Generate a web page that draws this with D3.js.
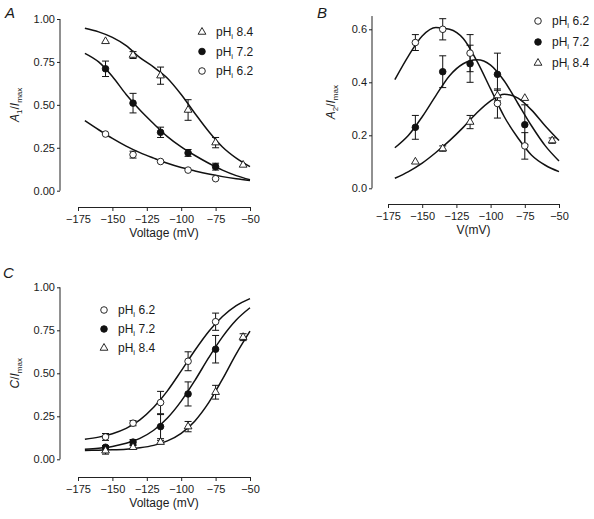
<!DOCTYPE html>
<html><head><meta charset="utf-8">
<script src="https://cdn.jsdelivr.net/npm/d3@7"></script>
<style>
body{margin:0;background:#fff}
svg{display:block}
text{font-family:"Liberation Sans",Arial,Helvetica,sans-serif;fill:#1a1a1a}
</style>
</head><body>
<svg id="chart" width="594" height="519"></svg>
<script>
// ---------- DATA ----------
const voltages = [-155, -135, -115, -95, -75, -55];
const curveV = [-170, -160, -150, -140, -130, -120, -110, -100, -90, -80, -70, -60, -50];
const xTicks = [-175, -150, -125, -100, -75, -50];

// Panel A : A1/Imax
const a1_pH84 = [0.87, 0.79, 0.67, 0.47, 0.28, 0.15];
const a1_pH84_err = [0, 0.02, 0.05, 0.06, 0.03, 0];
const a1_pH72 = [0.71, 0.51, 0.34, 0.22, 0.14];
const a1_pH72_err = [0.045, 0.057, 0.03, 0.02, 0.02];
const a1_pH62 = [0.33, 0.21, 0.17, 0.12, 0.07];
const a1_pH62_err = [0, 0.02, 0, 0, 0];
const a1_fit84 = [0.946, 0.925, 0.893, 0.845, 0.775, 0.72, 0.655, 0.56, 0.45, 0.345, 0.255, 0.19, 0.14];
const a1_fit72 = [0.80, 0.75, 0.665, 0.56, 0.47, 0.39, 0.315, 0.255, 0.205, 0.16, 0.12, 0.088, 0.064];
const a1_fit62 = [0.408, 0.355, 0.305, 0.26, 0.222, 0.19, 0.16, 0.135, 0.115, 0.097, 0.082, 0.07, 0.06];
const aTicks = [0, 0.25, 0.5, 0.75, 1.0];

// Panel B : A2/Imax
const a2_pH62 = [0.55, 0.60, 0.51, 0.32, 0.16];
const a2_pH62_err = [0.03, 0.04, 0.07, 0.055, 0.05];
const a2_pH72 = [0.23, 0.44, 0.47, 0.43, 0.24];
const a2_pH72_err = [0.045, 0.06, 0.07, 0.08, 0.075];
const a2_pH84 = [0.10, 0.15, 0.25, 0.35, 0.34, 0.18];
const a2_pH84_err = [0, 0.01, 0.025, 0.02, 0, 0.01];
const a2_fit62 = [0.41, 0.50, 0.575, 0.607, 0.60, 0.565, 0.48, 0.375, 0.27, 0.19, 0.125, 0.087, 0.063];
const a2_fit72 = [0.153, 0.20, 0.27, 0.35, 0.425, 0.47, 0.485, 0.465, 0.405, 0.32, 0.235, 0.16, 0.103];
const a2_fit84 = [0.038, 0.063, 0.095, 0.135, 0.18, 0.23, 0.285, 0.33, 0.355, 0.34, 0.295, 0.235, 0.18];
const bTicks = [0, 0.2, 0.4, 0.6];

// Panel C : C/Imax
const c_pH62 = [0.13, 0.21, 0.33, 0.57, 0.80];
const c_pH62_err = [0.02, 0.015, 0.065, 0.055, 0.05];
const c_pH72 = [0.07, 0.10, 0.19, 0.38, 0.64];
const c_pH72_err = [0.01, 0.015, 0.07, 0.07, 0.08];
const c_pH84 = [0.05, 0.07, 0.10, 0.19, 0.39, 0.71];
const c_pH84_err = [0.02, 0.01, 0.01, 0.03, 0.04, 0.02];
const c_fit62 = [0.117, 0.129, 0.149, 0.18, 0.229, 0.302, 0.398, 0.514, 0.634, 0.743, 0.83, 0.893, 0.934];
const c_fit72 = [0.058, 0.0645, 0.075, 0.093, 0.122, 0.169, 0.24, 0.338, 0.459, 0.591, 0.712, 0.81, 0.881];
const c_fit84 = [0.051, 0.053, 0.055, 0.059, 0.067, 0.081, 0.107, 0.151, 0.223, 0.329, 0.466, 0.613, 0.745];
const cTicks = [0, 0.25, 0.5, 0.75, 1.0];

// ---------- DRAWING ----------
const svg = d3.select("#chart");
const fmt2 = d3.format(".2f"), fmt1 = d3.format(".1f");

function marker(g, type, x, y) {
  if (type === "tri") {
    g.append("path").attr("d", d3.symbol(d3.symbolTriangle, 26)())
      .attr("transform", `translate(${x},${y})`)
      .attr("fill", "#fff").attr("stroke", "#111").attr("stroke-width", 0.9);
  } else {
    g.append("circle").attr("cx", x).attr("cy", y).attr("r", 3.3)
      .attr("fill", type === "filled" ? "#111" : "#fff")
      .attr("stroke", "#111").attr("stroke-width", 0.9);
  }
}

function legendLabel(t, ph) {
  t.append("tspan").text("pH");
  t.append("tspan").attr("font-size", "8px").attr("dy", 3).text("i");
  t.append("tspan").attr("dy", -3).text(" " + ph);
}

function panel(cfg) {
  const g = svg.append("g");
  const x = d3.scaleLinear().domain([-175, -50]).range([cfg.x0, cfg.x1]);
  const y = d3.scaleLinear().domain(cfg.yDomain).range([cfg.yb, cfg.yt]);

  // y axis
  const ya = g.append("g").attr("transform", `translate(${cfg.yx},0)`)
    .call(d3.axisLeft(y).tickValues(cfg.yTicks).tickFormat(cfg.yFmt).tickSize(3).tickPadding(2));
  ya.select(".domain").attr("stroke", "#222").attr("d", `M0,${y(cfg.yDomain[1])}V${y(0)}`);
  ya.selectAll(".tick line").attr("stroke", "#222");
  ya.selectAll("text").attr("font-size", "11px").attr("fill", "#1a1a1a");

  // x axis (detached)
  const xa = g.append("g").attr("transform", `translate(0,${cfg.xy})`)
    .call(d3.axisBottom(x).tickValues(xTicks).tickSize(4).tickPadding(4).tickSizeOuter(0));
  xa.select(".domain").attr("stroke", "#222");
  xa.selectAll(".tick line").attr("stroke", "#222");
  xa.selectAll("text").attr("font-size", "11px").attr("fill", "#1a1a1a");

  // fitted curves
  const line = d3.line().x((d, i) => x(curveV[i])).y(d => y(d)).curve(d3.curveMonotoneX);
  cfg.fits.forEach(f => {
    g.append("path").attr("d", line(f)).attr("fill", "none")
      .attr("stroke", "#111").attr("stroke-width", 1.5);
  });

  // error bars then markers
  cfg.series.forEach(s => {
    s.vals.forEach((v, i) => {
      const e = s.err[i];
      if (e > 0) {
        const cx = x(voltages[i]);
        g.append("line").attr("x1", cx).attr("x2", cx).attr("y1", y(v - e)).attr("y2", y(v + e))
          .attr("stroke", "#111").attr("stroke-width", 1);
        [v - e, v + e].forEach(b => g.append("line").attr("x1", cx - 3.5).attr("x2", cx + 3.5)
          .attr("y1", y(b)).attr("y2", y(b)).attr("stroke", "#111").attr("stroke-width", 1));
      }
    });
  });
  cfg.series.forEach(s => {
    s.vals.forEach((v, i) => marker(g, s.type, x(voltages[i]), y(v)));
  });

  // legend
  cfg.legend.forEach((l, i) => {
    const ly = cfg.legY + i * cfg.legDy;
    marker(g, l.type, cfg.legX, ly);
    const t = g.append("text").attr("x", cfg.legX + 14).attr("y", ly + 4).attr("font-size", "12px");
    legendLabel(t, l.ph);
  });

  // panel letter
  g.append("text").attr("x", cfg.letterX).attr("y", cfg.letterY).attr("font-size", "15px")
    .attr("font-style", "italic").text(cfg.letter);

  // y title
  const yt = g.append("text").attr("transform", `translate(${cfg.ytX},${(y(cfg.yDomain[1]) + y(0)) / 2}) rotate(-90)`)
    .attr("text-anchor", "middle").attr("font-size", "12px");
  cfg.yTitle(yt);

  // x title
  g.append("text").attr("x", (cfg.x0 + cfg.x1) / 2).attr("y", cfg.xy + 30).attr("text-anchor", "middle")
    .attr("font-size", "12px").text(cfg.xTitle);
}

panel({
  x0: 78, x1: 250, yx: 60, yb: 190.7, yt: 19, yDomain: [0, 1], yTicks: aTicks, yFmt: fmt2, xy: 207,
  fits: [a1_fit84, a1_fit72, a1_fit62],
  series: [
    {type: "tri", vals: a1_pH84, err: a1_pH84_err},
    {type: "filled", vals: a1_pH72, err: a1_pH72_err},
    {type: "open", vals: a1_pH62, err: a1_pH62_err}],
  legend: [{type: "tri", ph: "8.4"}, {type: "filled", ph: "7.2"}, {type: "open", ph: "6.2"}],
  legX: 202, legY: 32, legDy: 19.5,
  letter: "A", letterX: 5, letterY: 18, ytX: 19,
  yTitle: t => { t.append("tspan").attr("font-style", "italic").text("A");
    t.append("tspan").attr("font-size", "8px").attr("dy", 3).text("1");
    t.append("tspan").attr("dy", -3).text("/");
    t.append("tspan").attr("font-style", "italic").text("I");
    t.append("tspan").attr("font-size", "8px").attr("dy", 3).text("max"); },
  xTitle: "Voltage (mV)"
});

panel({
  x0: 388, x1: 559, yx: 372, yb: 188.3, yt: 29.3 - (188.3 - 29.3) * (0.05 / 0.6), yDomain: [0, 0.65], yTicks: bTicks, yFmt: fmt1, xy: 204,
  fits: [a2_fit62, a2_fit72, a2_fit84],
  series: [
    {type: "open", vals: a2_pH62, err: a2_pH62_err},
    {type: "filled", vals: a2_pH72, err: a2_pH72_err},
    {type: "tri", vals: a2_pH84, err: a2_pH84_err}],
  legend: [{type: "open", ph: "6.2"}, {type: "filled", ph: "7.2"}, {type: "tri", ph: "8.4"}],
  legX: 538, legY: 21, legDy: 21,
  letter: "B", letterX: 317, letterY: 18, ytX: 335,
  yTitle: t => { t.append("tspan").attr("font-style", "italic").text("A");
    t.append("tspan").attr("font-size", "8px").attr("dy", 3).text("2");
    t.append("tspan").attr("dy", -3).text("/");
    t.append("tspan").attr("font-style", "italic").text("I");
    t.append("tspan").attr("font-size", "8px").attr("dy", 3).text("max"); },
  xTitle: "V(mV)"
});

panel({
  x0: 78, x1: 250, yx: 60, yb: 459.3, yt: 287.3, yDomain: [0, 1], yTicks: cTicks, yFmt: fmt2, xy: 477,
  fits: [c_fit62, c_fit72, c_fit84],
  series: [
    {type: "open", vals: c_pH62, err: c_pH62_err},
    {type: "filled", vals: c_pH72, err: c_pH72_err},
    {type: "tri", vals: c_pH84, err: c_pH84_err}],
  legend: [{type: "open", ph: "6.2"}, {type: "filled", ph: "7.2"}, {type: "tri", ph: "8.4"}],
  legX: 104, legY: 310, legDy: 19,
  letter: "C", letterX: 3, letterY: 278, ytX: 19,
  yTitle: t => { t.append("tspan").attr("font-style", "italic").text("C");
    t.append("tspan").text("/");
    t.append("tspan").attr("font-style", "italic").text("I");
    t.append("tspan").attr("font-size", "8px").attr("dy", 3).text("max"); },
  xTitle: "Voltage (mV)"
});
</script>
</body></html>
